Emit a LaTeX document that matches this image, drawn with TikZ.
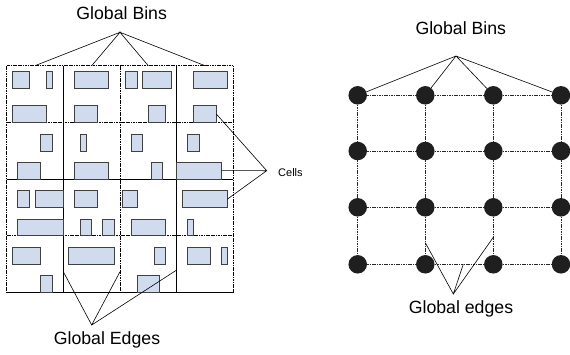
\documentclass[tikz,border=0pt]{standalone}
\usepackage{fontspec}
\setmainfont{Liberation Sans}
\begin{document}
\begin{tikzpicture}[x=1pt,y=-1pt,
  cellbox/.style={draw=black!75,line width=0.9pt,fill=cellfill,inner sep=0pt,outer sep=0pt},
  binline/.style={line width=0.7pt,black},
  binline dot/.style={line width=0.9pt,black,dash pattern=on 1.2pt off 0.5pt},
  conn/.style={line width=0.6pt,black},
  gbin/.style={circle,fill=black!88,inner sep=0pt,minimum size=18.5pt},
  gedge/.style={line width=0.6pt,black!85,dash pattern=on 1.6pt off 0.8pt},
  lbl/.style={font=\fontsize{17.7}{20}\selectfont,anchor=base,inner sep=0pt},
  slbl/.style={font=\fontsize{11}{13}\selectfont,anchor=base west,inner sep=0pt}]
\definecolor{cellfill}{RGB}{208,220,238}
\useasboundingbox (0,0) rectangle (570,354);
\newcommand\mkcell[5]{\node[cellbox,minimum width={(#4-#2)*1pt},minimum height={(#5-#3)*1pt}] (#1) at ({(#2+#4)/2},{(#3+#5)/2}) {};}
% ---- left grid
\draw[binline dot] (6.7,65.7) rectangle (233.3,292.3);
\draw[binline] (63.3,65.7) -- (63.3,292.3);
\draw[binline dot] (120,65.7) -- (120,292.3);
\draw[binline] (176.7,65.7) -- (176.7,292.3);
\draw[binline dot] (6.7,122.3) -- (233.3,122.3);
\draw[binline] (6.7,179) -- (233.3,179);
\draw[binline dot] (6.7,235.7) -- (233.3,235.7);
\draw[binline] (6.7,292.3) -- (233.3,292.3);
% cells row 0
\mkcell{a1}{12.3}{71.7}{29.3}{88.7}
\mkcell{a2}{46}{71.7}{52.3}{88.7}
\mkcell{a3}{12.3}{105.7}{46.3}{122.3}
\mkcell{a4}{74.3}{71.7}{108.7}{88.7}
\mkcell{a5}{74.3}{105.7}{97.3}{122.3}
\mkcell{a6}{125.7}{71.7}{137}{88.7}
\mkcell{a7}{142.7}{71.7}{171}{88.7}
\mkcell{a8}{148.3}{105.7}{165.3}{122.3}
\mkcell{a9}{193.3}{71.7}{227.3}{88.7}
\mkcell{a10}{193.3}{105.7}{216.3}{122.3}
% row 1
\mkcell{b1}{40.7}{134}{52.3}{151}
\mkcell{b2}{17.7}{162.3}{40.7}{179}
\mkcell{b3}{80}{134}{86.3}{151}
\mkcell{b4}{74.3}{162.3}{108.7}{179}
\mkcell{b5}{131.3}{134}{142.7}{151}
\mkcell{b6}{151}{162.3}{162.7}{179}
\mkcell{b7}{187.7}{134}{199.3}{151}
\mkcell{b8}{176.7}{162.3}{221.7}{179}
% row 2
\mkcell{c1}{17.7}{190.7}{29.3}{207.7}
\mkcell{c2}{35}{190.7}{63.3}{207.7}
\mkcell{c3}{17.7}{219}{63.3}{235.7}
\mkcell{c4}{74.3}{190.7}{97.3}{207.7}
\mkcell{c5}{80}{219}{91.7}{235.7}
\mkcell{c6}{102.7}{219}{114.3}{235.7}
\mkcell{c7}{122.3}{190.7}{137}{207.7}
\mkcell{c8}{131.3}{219}{165.3}{235.7}
\mkcell{c9}{182}{190.7}{227.3}{207.7}
\mkcell{c10}{187.7}{219}{193.3}{235.7}
% row 3
\mkcell{d1}{12.3}{247.3}{40.7}{264}
\mkcell{d2}{40.7}{275.7}{52.3}{292.3}
\mkcell{d3}{68.7}{247.3}{114.3}{264}
\mkcell{d4}{154}{247.3}{165.3}{264}
\mkcell{d5}{137}{275.7}{159.7}{292.3}
\mkcell{d6}{187.7}{247.3}{210.3}{264}
\mkcell{d7}{221.7}{247.3}{227.3}{264}
% left labels
\node[lbl] (lbins) at (121.7,19) {Global Bins};
\coordinate (lbapex) at (120,32.3);
\coordinate (lb1) at (35,65.7);
\coordinate (lb2) at (91.7,65.7);
\coordinate (lb3) at (148.3,65.7);
\coordinate (lb4) at (205,65.7);
\draw[conn] (lb1) -- (lbapex) -- (lb2) (lb3) -- (lbapex) -- (lb4);
\node[slbl] (cells) at (278,176) {Cells};
\coordinate (capex) at (266.7,170.7);
\draw[conn] (a10.east) -- (capex) -- (b8.east) (capex) -- (c9.east);
\node[lbl] (ledges) at (107,344) {Global Edges};
\coordinate (leapex) at (91.7,325);
\coordinate (le1) at (63.3,271.7);
\coordinate (le2) at (120,271.7);
\coordinate (le3) at (176.7,270);
\draw[conn] (le1) -- (leapex) -- (le2) (leapex) -- (le3);
% ---- right graph
\foreach \r/\yy in {1/95.3,2/151,3/207.3,4/264.3}{
  \foreach \c/\xx in {1/357.7,2/425.3,3/493.3,4/561}{
    \node[gbin] (n\r\c) at (\xx,\yy) {};
  }
}
\foreach \r in {1,...,4}{
  \draw[gedge] (n\r1) -- (n\r2) -- (n\r3) -- (n\r4);
  \draw[gedge] (n1\r) -- (n2\r) -- (n3\r) -- (n4\r);
}
\node[lbl] (rbins) at (460.8,34.3) {Global Bins};
\coordinate (rbapex) at (456,56);
\draw[conn] (rbapex) -- (n11) (rbapex) -- (n12) (rbapex) -- (n13) (rbapex) -- (n14);
\node[lbl] (redges) at (461,313.3) {Global edges};
\coordinate (reapex) at (453.3,294);
\coordinate (re1) at (425.3,242.7);
\coordinate (re2) at (463.3,264.3);
\coordinate (re3) at (493.3,237.3);
\draw[conn] (re1) -- (reapex) -- (re2) (reapex) -- (re3);
\end{tikzpicture}
\end{document}
